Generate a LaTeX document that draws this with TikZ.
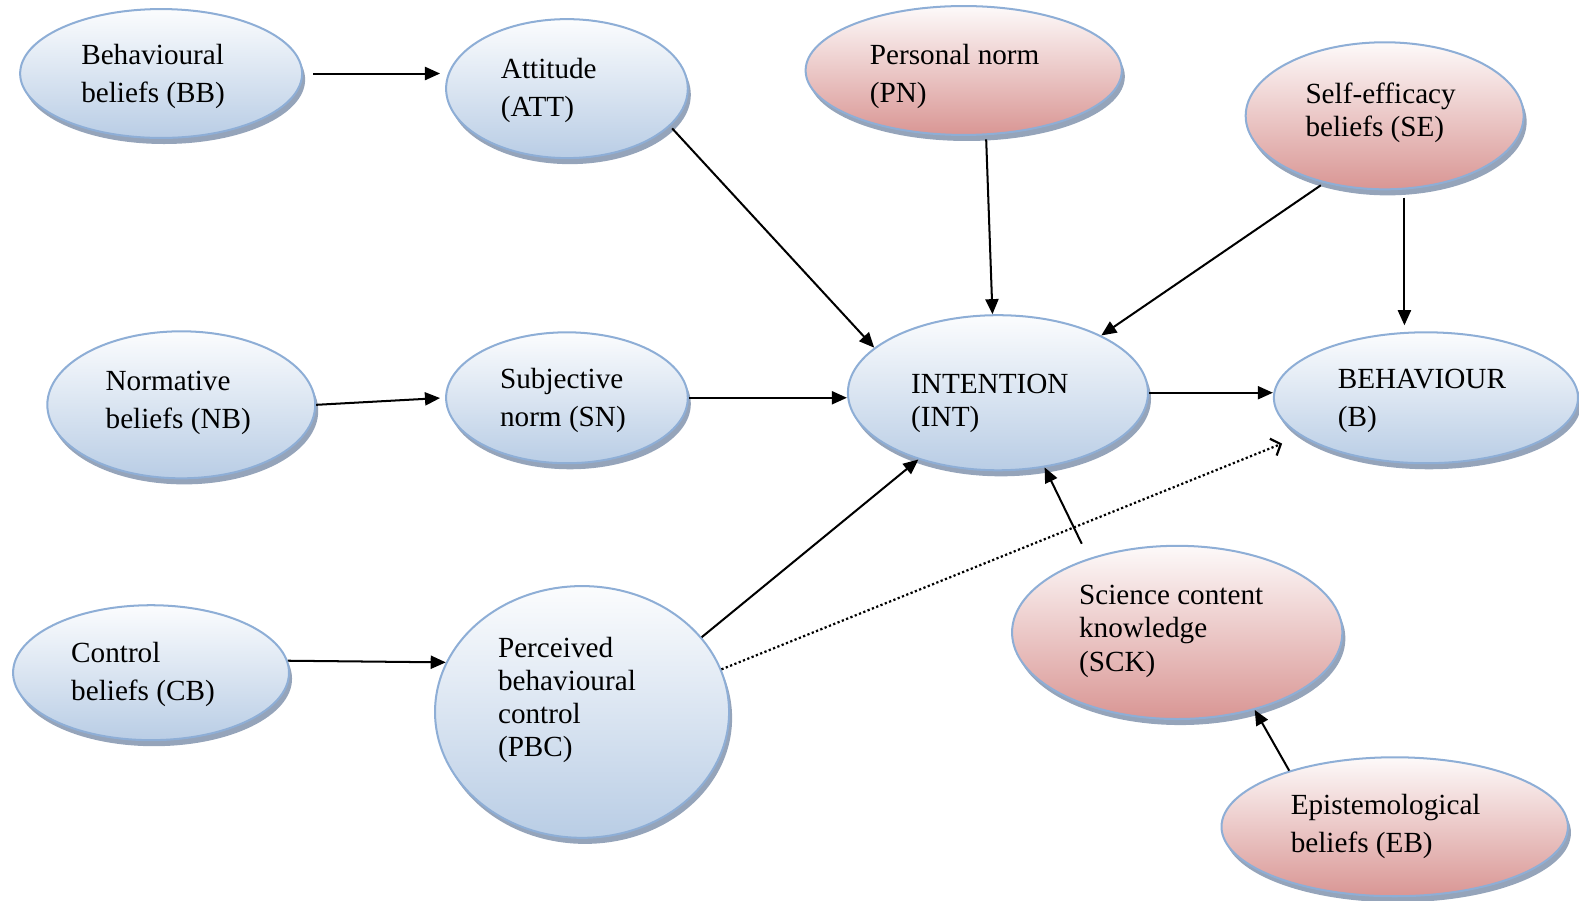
\documentclass[tikz,border=0pt]{standalone}
\usepackage{fontspec}
\setmainfont{Liberation Serif}
\usetikzlibrary{arrows.meta,shapes.geometric,shadows}

\definecolor{ovalline}{HTML}{8EAED6}
\definecolor{ovalblue}{HTML}{B9CDE5}
\definecolor{ovalred}{HTML}{D99694}
\definecolor{shadowblue}{HTML}{8A9AB2}

\begin{document}
\begin{tikzpicture}[x=1pt,y=-1pt,
  every node/.style={font=\fontsize{29}{38}\selectfont},
  oval/.style={ellipse, draw=ovalline, line width=2pt, inner sep=0pt,
    drop shadow={shadow xshift=3pt,shadow yshift=-6pt,fill=shadowblue,opacity=.9}},
  blueoval/.style={oval, top color=white!95!ovalblue, bottom color=ovalblue},
  redoval/.style={oval, top color=white!95!ovalred, bottom color=ovalred},
  label/.style={align=left, inner sep=0pt},
  tight/.style={font=\fontsize{29}{33}\selectfont},
  link/.style={-{Triangle[length=15pt,width=13pt]}, line width=2pt},
  dotlink/.style={-{Straight Barb[length=8pt,width=18pt]}, line width=2.2pt,
    dash pattern=on 2.2pt off 2.4pt}]

  \useasboundingbox (0,0) rectangle (1568,894);

  %% Top row
  \node[blueoval, minimum width=280pt, minimum height=128pt] (bb) at (160,73) {};
  \node[label] (bb-t) at (152,76) {Behavioural\\beliefs (BB)};
  \node[blueoval, minimum width=240pt, minimum height=138pt] (att) at (563,88) {};
  \node[label] (att-t) at (545,90) {Attitude\\(ATT)};
  \node[redoval, minimum width=314pt, minimum height=128pt] (pn) at (957,70) {};
  \node[label] (pn-t) at (948,76) {Personal norm\\(PN)};
  \node[redoval, minimum width=276pt, minimum height=146pt] (se) at (1375,115) {};
  \node[label, tight] (se-t) at (1371,112) {Self-efficacy\\beliefs (SE)};

  %% Middle row
  \node[blueoval, minimum width=266pt, minimum height=146pt] (nb) at (180,402) {};
  \node[label] (nb-t) at (177,400) {Normative\\beliefs (NB)};
  \node[blueoval, minimum width=240pt, minimum height=130pt] (sn) at (563,395) {};
  \node[label] (sn-t) at (559,398) {Subjective\\norm (SN)};
  \node[blueoval, minimum width=298pt, minimum height=154pt] (int) at (991,390) {};
  \node[label, tight] (int-t) at (983,401) {INTENTION\\(INT)};
  \node[blueoval, minimum width=302pt, minimum height=130pt] (b) at (1416,395) {};
  \node[label] (b-t) at (1412,398) {BEHAVIOUR\\(B)};

  %% Bottom row
  \node[blueoval, minimum width=274pt, minimum height=134pt] (cb) at (150,668) {};
  \node[label] (cb-t) at (142,670) {Control\\beliefs (CB)};
  \node[blueoval, minimum width=292pt, minimum height=250pt] (pbc) at (578,707) {};
  \node[label, tight] (pbc-t) at (563,695) {Perceived\\behavioural\\control\\(PBC)};
  \node[redoval, minimum width=328pt, minimum height=172pt] (sck) at (1169,628) {};
  \node[label, tight] (sck-t) at (1163,627) {Science content\\knowledge\\(SCK)};
  \node[redoval, minimum width=344pt, minimum height=138pt] (eb) at (1385,821) {};
  \node[label] (eb-t) at (1376,821) {Epistemological\\beliefs (EB)};

  % Paths
  \draw[link, shorten <=10pt, shorten >=5pt] (bb.east) -- (bb.east -| att.west);
  \draw[link, shorten <=3pt] (att.-20) -- (int.160);
  \draw[link, shorten <=4pt] (pn.-71) -- (int.94);
  \draw[link, shorten <=4pt] (se.-132) -- (int.29);
  \draw[link, shorten <=8pt, shorten >=6pt] (se.-75) -- (se.-75 |- b.north);
  \draw[link, shorten >=5pt] (nb.east) -- (sn.west);
  \draw[link] (sn.east) -- (sn.east -| int.west);
  \draw[link] (int.east) -- (int.east -| b.west);
  \draw[link] (cb.5) -- (pbc.160);
  \draw[link] (pbc.32) -- (int.-140);
  \draw[dotlink, shorten >=20pt] (pbc.17) -- (b.197);
  \draw[link, shorten <=16pt] (sck.140) -- (int.-58);
  \draw[link] (eb.152) -- (sck.-45);

\end{tikzpicture}
\end{document}
